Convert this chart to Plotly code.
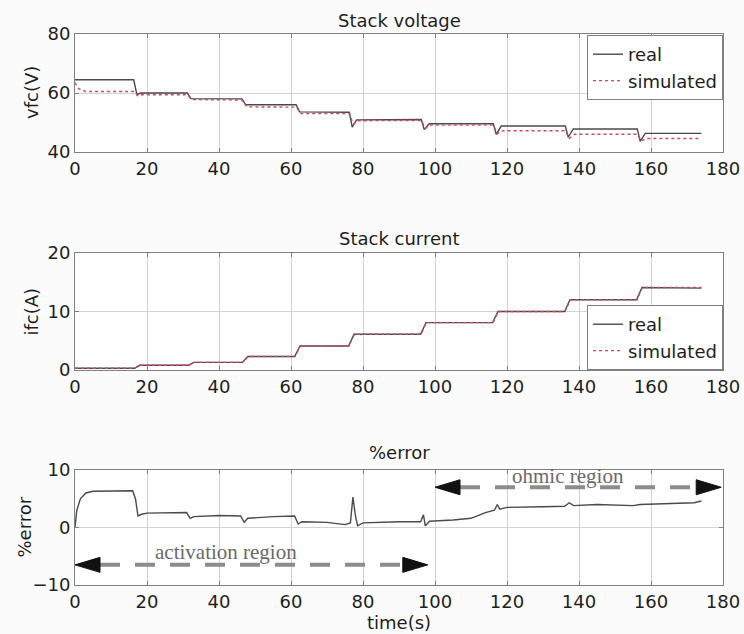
import plotly.graph_objects as go

# ---- Stack voltage (V) ----
t_v_real = [0, 16.3, 17.2, 18.2, 31.2, 32.2, 46.4, 47.4, 61.4, 62.4, 76.2, 77.0, 78.2, 96.2, 97.0, 98.4,
            116.2, 117.0, 118.4, 136.2, 137.0, 138.4, 156.2, 157.0, 158.4, 174]
v_real = [64.5, 64.5, 59.4, 60.0, 60.0, 58.1, 58.0, 56.0, 56.0, 53.6, 53.5, 48.4, 50.9, 51.0, 47.6, 49.6,
          49.6, 46.0, 48.8, 48.8, 45.0, 47.8, 47.8, 43.6, 46.3, 46.3]

t_v_sim = [0, 1.0, 3.0, 16.5, 17.5, 18.5, 31.2, 32.5, 46.4, 47.8, 61.4, 62.8, 76.2, 77.3, 78.5, 96.2, 97.3,
           98.8, 116.2, 117.3, 118.8, 136.2, 137.3, 138.8, 156.2, 157.3, 158.8, 174]
v_sim = [63.5, 61.5, 60.5, 60.5, 59.0, 59.4, 59.4, 57.8, 57.6, 55.3, 55.2, 53.0, 53.0, 49.4, 50.6, 50.7, 48.0,
         49.1, 49.1, 46.2, 47.2, 47.2, 44.6, 46.0, 46.0, 43.8, 44.6, 44.6]

# ---- Stack current (A) ----
t_i_real = [0, 16.5, 18.0, 31.5, 33.0, 46.5, 48.0, 61.0, 62.5, 76.0, 77.5, 96.0, 97.5, 116.0, 117.5,
            136.0, 137.5, 156.0, 157.5, 174]
i_real = [0.3, 0.3, 0.8, 0.8, 1.3, 1.3, 2.3, 2.3, 4.1, 4.1, 6.1, 6.1, 8.1, 8.1, 10.0, 10.0, 12.0, 12.0,
          14.1, 14.0]

t_i_sim = [0, 16.6, 18.1, 31.6, 33.1, 46.6, 48.1, 61.1, 62.6, 76.1, 77.6, 96.1, 97.6, 116.1, 117.6,
           136.1, 137.6, 156.1, 157.6, 174]
i_sim = [0.3, 0.3, 0.8, 0.8, 1.3, 1.3, 2.3, 2.3, 4.1, 4.1, 6.1, 6.1, 8.1, 8.1, 10.0, 10.0, 12.0, 12.0,
         14.1, 14.1]

# ---- Percentage error ----
t_err = [0, 0.5, 1.5, 3, 5, 16, 16.8, 17.5, 18.5, 20, 31, 32, 33, 40, 46, 47, 48, 55, 61, 62, 63, 70,
         75, 76.5, 77.2, 77.9, 78.5, 80, 90, 96, 96.8, 97.3, 98.5, 105, 110, 114, 116.5, 117.3, 118, 120,
         130, 136, 137.3, 138.5, 145, 155, 157, 165, 172, 174]
err = [0, 3.0, 5.0, 6.0, 6.3, 6.4, 5.0, 2.0, 2.3, 2.5, 2.6, 1.6, 1.9, 2.1, 2.0, 0.9, 1.6, 1.9, 2.0, 0.6,
       1.0, 0.9, 0.5, 0.8, 5.3, 2.0, 0.3, 0.8, 1.0, 1.0, 2.2, 0.3, 1.1, 1.3, 1.6, 2.6, 3.0, 4.0, 3.2, 3.5,
       3.6, 3.7, 4.3, 3.8, 4.0, 3.8, 4.0, 4.1, 4.3, 4.6]

# ---- Region markers on the error plot ----
activation_span = [0, 98]
activation_level = -6.5
activation_label_pos = [42, -4.3]
ohmic_span = [100, 179.5]
ohmic_level = 7.0
ohmic_label_pos = [137, 8.9]

# ---- Tick values ----
x_ticks = [0, 20, 40, 60, 80, 100, 120, 140, 160, 180]
v_ticks = [40, 60, 80]
i_ticks = [0, 10, 20]
e_ticks = [-10, 0, 10]

W, H = 744, 634
X0, X1 = 75, 723  # plot area in px
panels = [(34, 152), (253, 370), (470, 585)]  # top/bottom px of each panel


def ydom(p):
    top, bot = p
    return [1 - bot / H, 1 - top / H]


REAL_C = '#4a4a4a'
SIM_C = '#cc4a60'
TXT = '#1e1e1e'
FONT = 'DejaVu Sans, Arial, sans-serif'
SERIF = 'Liberation Serif, Times New Roman, serif'

fig = go.Figure()

fig.add_trace(go.Scatter(x=t_v_real, y=v_real, mode='lines', name='real',
                         line=dict(color=REAL_C, width=1.4), xaxis='x', yaxis='y', legend='legend'))
fig.add_trace(go.Scatter(x=t_v_sim, y=v_sim, mode='lines', name='simulated',
                         line=dict(color=SIM_C, width=1.4, dash='dot'), xaxis='x', yaxis='y',
                         legend='legend'))

fig.add_trace(go.Scatter(x=t_i_real, y=i_real, mode='lines', name='real',
                         line=dict(color=REAL_C, width=1.4), xaxis='x2', yaxis='y2', legend='legend2'))
fig.add_trace(go.Scatter(x=t_i_sim, y=i_sim, mode='lines', name='simulated',
                         line=dict(color=SIM_C, width=1.4, dash='dot'), xaxis='x2', yaxis='y2',
                         legend='legend2'))

fig.add_trace(go.Scatter(x=t_err, y=err, mode='lines', showlegend=False,
                         line=dict(color=REAL_C, width=1.4), xaxis='x3', yaxis='y3'))

# double-headed dashed arrows
px_x = 180 / (X1 - X0)
px_y = 20 / (panels[2][1] - panels[2][0])
head_len = 25 * px_x
head_half = 7.5 * px_y
for span, lvl in [(activation_span, activation_level), (ohmic_span, ohmic_level)]:
    a, b = span
    fig.add_trace(go.Scatter(x=[a + head_len, b - head_len], y=[lvl, lvl], mode='lines',
                             showlegend=False, hoverinfo='skip',
                             line=dict(color='#8c8c8c', width=4, dash='20px,15px'),
                             xaxis='x3', yaxis='y3'))
    for tip, d in [(a, 1), (b, -1)]:
        fig.add_trace(go.Scatter(x=[tip, tip + d * head_len, tip + d * head_len, tip],
                                 y=[lvl, lvl + head_half, lvl - head_half, lvl],
                                 mode='lines', fill='toself', fillcolor='#111111',
                                 line=dict(color='#111111', width=1), showlegend=False,
                                 hoverinfo='skip', xaxis='x3', yaxis='y3'))

axis_common = dict(range=[0, 180], tickvals=x_ticks, showline=True, mirror='ticks', linecolor='#808080',
                   linewidth=1, ticks='inside', ticklen=4, tickcolor='#808080', showgrid=True,
                   gridcolor='#d2d2d2', gridwidth=1, zeroline=False, automargin=False,
                   tickfont=dict(family=FONT, size=18, color=TXT),
                   domain=[X0 / W, X1 / W])

y_common = dict(showline=True, mirror='ticks', linecolor='#808080', linewidth=1, ticks='inside',
                ticklen=4, tickcolor='#808080', showgrid=True, gridcolor='#d2d2d2', gridwidth=1,
                zeroline=False, automargin=False, tickfont=dict(family=FONT, size=18, color=TXT))

legend_common = dict(x=X1 / W, xanchor='right', bgcolor='#ffffff', bordercolor='#808080',
                     borderwidth=1, font=dict(family=FONT, size=18, color=TXT),
                     tracegroupgap=0, itemwidth=30)

fig.update_layout(
    width=W, height=H,
    margin=dict(l=0, r=0, t=0, b=0),
    paper_bgcolor='#fbfbfb', plot_bgcolor='#fefefe',
    font=dict(family=FONT, size=18, color=TXT),
    xaxis=dict(axis_common, anchor='y'),
    xaxis2=dict(axis_common, anchor='y2'),
    xaxis3=dict(axis_common, anchor='y3'),
    yaxis=dict(y_common, range=[40, 80], tickvals=v_ticks, domain=ydom(panels[0]), anchor='x'),
    yaxis2=dict(y_common, range=[0, 20], tickvals=i_ticks, domain=ydom(panels[1]), anchor='x2'),
    yaxis3=dict(y_common, range=[-10, 10], tickvals=e_ticks, domain=ydom(panels[2]), anchor='x3'),
    legend=dict(legend_common, y=1 - 35 / H, yanchor='top'),
    legend2=dict(legend_common, y=1 - 370 / H, yanchor='bottom'),
)

xc = (X0 + X1) / 2 / W
annots = [
    dict(text='Stack voltage', x=xc, y=1 - 20 / H),
    dict(text='Stack current', x=xc, y=1 - 238 / H),
    dict(text='%error', x=xc, y=1 - 452 / H),
    dict(text='time(s)', x=xc, y=1 - 622 / H),
    dict(text='vfc(V)', x=32 / W, y=1 - sum(panels[0]) / 2 / H, textangle=-90),
    dict(text='ifc(A)', x=31 / W, y=1 - sum(panels[1]) / 2 / H, textangle=-90),
    dict(text='%error', x=24 / W, y=1 - sum(panels[2]) / 2 / H, textangle=-90),
]
for a in annots:
    fig.add_annotation(xref='paper', yref='paper', showarrow=False, xanchor='center', yanchor='middle',
                       font=dict(family=FONT, size=18, color=TXT), **a)

for label, pos in [('activation region', activation_label_pos), ('ohmic region', ohmic_label_pos)]:
    fig.add_annotation(xref='x3', yref='y3', x=pos[0], y=pos[1], text=label, showarrow=False,
                       xanchor='center', yanchor='middle',
                       font=dict(family=SERIF, size=21, color='#6a6a6a'))

fig.write_html('out.html')
